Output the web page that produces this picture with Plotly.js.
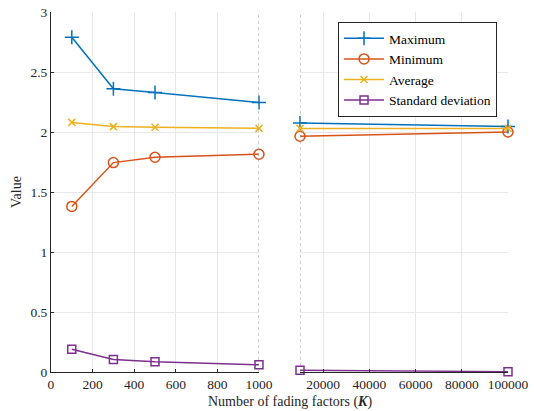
<!DOCTYPE html>
<html><head><meta charset="utf-8">
<script src="https://cdn.plot.ly/plotly-3.0.1.min.js"></script>
<style>html,body{margin:0;padding:0;background:#fff}#chart{width:534px;height:411px}</style>
</head><body><div id="chart"></div>
<script>
const xLeft = [100, 300, 500, 1000];
const xRight = [10000, 100000];
const maxLeft = [2.79, 2.36, 2.33, 2.245];
const minLeft = [1.38, 1.745, 1.79, 1.815];
const avgLeft = [2.08, 2.045, 2.04, 2.03];
const stdLeft = [0.19, 0.105, 0.085, 0.06];
const maxRight = [2.075, 2.045];
const minRight = [1.965, 2.0];
const avgRight = [2.03, 2.03];
const stdRight = [0.015, 0.003];
const names = ['Maximum', 'Minimum', 'Average', 'Standard deviation'];
const colors = ['#0072BD', '#D95319', '#EDB120', '#7E2F8E'];
const symbols = ['cross-thin-open', 'circle-open', 'x-thin-open', 'square-open'];
const sizes = [10, 10, 7, 8];
const xLeftTicks = [0, 200, 400, 600, 800, 1000];
const xRightTicks = [20000, 40000, 60000, 80000, 100000];
const yTicks = [0, 0.5, 1, 1.5, 2, 2.5, 3];
const leftY = [maxLeft, minLeft, avgLeft, stdLeft];
const rightY = [maxRight, minRight, avgRight, stdRight];

const traces = [];
for (let i = 0; i < 4; i++) {
  const mk = () => ({
    mode: 'lines+markers', name: names[i], cliponaxis: false,
    line: {color: colors[i], width: 1.5},
    marker: {symbol: symbols[i], size: sizes[i], color: colors[i], line: {color: colors[i], width: 1.5}}
  });
  traces.push(Object.assign(mk(), {x: xLeft, y: leftY[i], xaxis: 'x', yaxis: 'y', showlegend: true, legendgroup: 'g' + i}));
  traces.push(Object.assign(mk(), {x: xRight, y: rightY[i], xaxis: 'x2', yaxis: 'y', showlegend: false, legendgroup: 'g' + i}));
}

const fam = 'Liberation Serif';
const tickFont = {family: fam, size: 13.5, color: '#262626'};
const axisCommon = {
  showgrid: true, gridcolor: '#e8e8e8', gridwidth: 1, zeroline: false,
  showline: true, linecolor: '#262626', linewidth: 1,
  ticks: 'inside', ticklen: 3, tickcolor: '#262626',
  tickfont: tickFont
};
const layout = {
  width: 534, height: 411,
  margin: {l: 0, r: 0, t: 12, b: 39},
  paper_bgcolor: '#fff', plot_bgcolor: 'rgba(0,0,0,0)',
  font: {family: fam, size: 13, color: '#262626'},
  showlegend: true,
  legend: {
    x: 0.633, y: 0.972, xanchor: 'left', yanchor: 'top',
    bgcolor: '#fff', bordercolor: '#262626', borderwidth: 1,
    font: {family: fam, size: 13.5, color: '#000'},
    tracegroupgap: 0, itemwidth: 40
  },
  xaxis: Object.assign({}, axisCommon, {domain: [0.0955, 0.485], range: [0, 1000], tickvals: xLeftTicks, ticktext: xLeftTicks.map(String), anchor: 'y'}),
  xaxis2: Object.assign({}, axisCommon, {domain: [0.5618, 0.9513], range: [10000, 100000], tickvals: xRightTicks, ticktext: xRightTicks.map(String), anchor: 'y'}),
  yaxis: Object.assign({}, axisCommon, {range: [0, 3], tickvals: yTicks, ticktext: yTicks.map(String), anchor: 'x', domain: [0, 1],
    title: {text: 'Value', font: {family: fam, size: 14, color: '#262626'}, standoff: 5}}),
  shapes: [
    {type: 'line', xref: 'x', yref: 'paper', x0: 1000, x1: 1000, y0: 0, y1: 1, line: {color: '#9a9a9a', width: 1, dash: 'dot'}},
    {type: 'line', xref: 'x2', yref: 'paper', x0: 10000, x1: 10000, y0: 0, y1: 1, line: {color: '#9a9a9a', width: 1, dash: 'dot'}}
  ],
  annotations: [
    {xref: 'paper', yref: 'paper', x: 0.543, y: -0.056, xanchor: 'center', yanchor: 'top', showarrow: false,
     text: 'Number of fading factors (<b><i>K</i></b>)', font: {family: fam, size: 14, color: '#262626'}}
  ]
};
Plotly.newPlot('chart', traces, layout, {displayModeBar: false, staticPlot: true});
</script></body></html>
